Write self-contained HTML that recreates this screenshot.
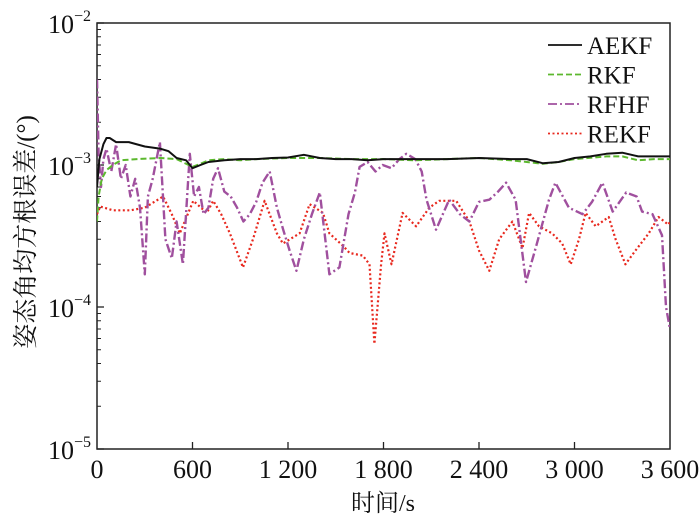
<!DOCTYPE html>
<html><head><meta charset="utf-8">
<style>
html,body{margin:0;padding:0;background:#fff;}
svg{display:block;}
text{font-family:"Liberation Serif","Noto Serif CJK SC",serif;fill:#111;}
</style></head>
<body>
<svg id="chart" width="700" height="523" viewBox="0 0 700 523" xmlns="http://www.w3.org/2000/svg"></svg>
<script>
const xTicks=[0,600,1200,1800,2400,3000,3600];
const xTickLabels=["0","600","1 200","1 800","2 400","3 000","3 600"];
const yDecades=[-2,-3,-4,-5];
const seriesNames=["AEKF","RKF","RFHF","REKF"];
const aekfT=[0,15,40,60,80,120,200,300,400,450,500,560,600,650,700,800,900,1000,1100,1200,1300,1400,1500,1600,1700,1800,1900,2000,2200,2400,2600,2700,2800,2900,3000,3100,3200,3300,3400,3500,3600];
const aekfV=[0.7e-3,1.1e-3,1.4e-3,1.55e-3,1.55e-3,1.45e-3,1.45e-3,1.35e-3,1.3e-3,1.25e-3,1.12e-3,1.08e-3,0.95e-3,1.0e-3,1.05e-3,1.08e-3,1.1e-3,1.1e-3,1.12e-3,1.13e-3,1.18e-3,1.12e-3,1.1e-3,1.1e-3,1.08e-3,1.1e-3,1.1e-3,1.1e-3,1.1e-3,1.12e-3,1.1e-3,1.1e-3,1.03e-3,1.05e-3,1.12e-3,1.15e-3,1.2e-3,1.22e-3,1.15e-3,1.15e-3,1.15e-3];
const rkfT=[0,10,30,60,100,150,250,400,500,600,650,700,800,900,1000,1200,1400,1600,1800,2000,2200,2400,2600,2700,2800,2900,3000,3200,3300,3400,3500,3600];
const rkfV=[0.4e-3,0.6e-3,0.8e-3,0.92e-3,1.0e-3,1.08e-3,1.1e-3,1.12e-3,1.1e-3,0.97e-3,1.02e-3,1.08e-3,1.1e-3,1.08e-3,1.1e-3,1.12e-3,1.12e-3,1.1e-3,1.1e-3,1.08e-3,1.1e-3,1.12e-3,1.08e-3,1.05e-3,1.02e-3,1.05e-3,1.1e-3,1.15e-3,1.15e-3,1.08e-3,1.1e-3,1.1e-3];
const rfhfT=[0,10,25,40,60,90,120,150,180,210,240,270,300,320,350,395,430,470,500,540,583,610,640,670,700,730,760,800,840,880,920,960,1000,1040,1085,1130,1170,1210,1253,1300,1350,1400,1460,1523,1580,1620,1650,1700,1750,1795,1850,1900,1943,2000,2040,2070,2130,2213,2280,2340,2400,2465,2520,2570,2630,2695,2760,2840,2880,2965,3050,3110,3175,3240,3325,3390,3425,3490,3550,3575,3600];
const rfhfV=[4e-3,1.2e-3,0.7e-3,1.1e-3,1.3e-3,0.9e-3,1.4e-3,0.8e-3,1.0e-3,0.6e-3,0.8e-3,0.5e-3,0.17e-3,0.6e-3,0.8e-3,1.45e-3,0.3e-3,0.22e-3,0.4e-3,0.2e-3,1.2e-3,0.6e-3,0.7e-3,0.45e-3,0.5e-3,0.8e-3,0.95e-3,0.65e-3,0.6e-3,0.5e-3,0.4e-3,0.45e-3,0.55e-3,0.75e-3,0.9e-3,0.5e-3,0.35e-3,0.25e-3,0.18e-3,0.3e-3,0.45e-3,0.64e-3,0.17e-3,0.19e-3,0.45e-3,0.64e-3,0.97e-3,1.05e-3,0.9e-3,1.0e-3,0.95e-3,1.1e-3,1.2e-3,1.1e-3,0.9e-3,0.57e-3,0.35e-3,0.57e-3,0.45e-3,0.4e-3,0.55e-3,0.57e-3,0.65e-3,0.75e-3,0.57e-3,0.15e-3,0.27e-3,0.57e-3,0.75e-3,0.5e-3,0.45e-3,0.55e-3,0.75e-3,0.47e-3,0.64e-3,0.6e-3,0.47e-3,0.45e-3,0.32e-3,0.1e-3,0.07e-3];
const rekfT=[0,20,100,210,300,415,470,520,605,690,730,780,835,917,980,1053,1130,1168,1273,1336,1420,1460,1545,1587,1670,1712,1743,1785,1806,1850,1920,2005,2088,2150,2257,2340,2400,2465,2527,2610,2673,2715,2777,2860,2923,2976,3028,3070,3133,3215,3258,3320,3383,3466,3528,3590,3600];
const rekfV=[0.45e-3,0.51e-3,0.48e-3,0.48e-3,0.5e-3,0.6e-3,0.45e-3,0.33e-3,0.56e-3,0.46e-3,0.56e-3,0.45e-3,0.33e-3,0.19e-3,0.3e-3,0.56e-3,0.33e-3,0.28e-3,0.33e-3,0.53e-3,0.46e-3,0.33e-3,0.27e-3,0.24e-3,0.23e-3,0.2e-3,0.055e-3,0.2e-3,0.33e-3,0.2e-3,0.46e-3,0.37e-3,0.5e-3,0.56e-3,0.56e-3,0.4e-3,0.25e-3,0.18e-3,0.3e-3,0.4e-3,0.26e-3,0.46e-3,0.37e-3,0.33e-3,0.28e-3,0.2e-3,0.3e-3,0.46e-3,0.37e-3,0.43e-3,0.3e-3,0.2e-3,0.25e-3,0.33e-3,0.43e-3,0.38e-3,0.4e-3];

const NS="http://www.w3.org/2000/svg";
const svg=document.getElementById('chart');
const L=97,R=670,T=23,B=449;
function xs(t){return L+(t-0)/3600*(R-L);}
function ys(v){return T+(-2-Math.log10(v))/3*(B-T);}
function mk(tag,attrs,parent){const e=document.createElementNS(NS,tag);for(const k in attrs)e.setAttribute(k,attrs[k]);(parent||svg).appendChild(e);return e;}

const frame=mk('rect',{x:L,y:T,width:R-L,height:B-T,fill:'none',stroke:'#222','stroke-width':1.5});



yDecades.forEach(d=>{
  const y=ys(Math.pow(10,d));
  const tk=mk('line',{x1:L,x2:L+7,y1:y,y2:y,stroke:'#222','stroke-width':1.3});
  
  
  const tx=mk('text',{x:L-6,y:y+10,'text-anchor':'end','font-size':26});
  
  
  const b=mk('tspan',{},tx);b.textContent='10';
  const s=mk('tspan',{dy:-12,'font-size':16},tx);s.textContent='\u2212'+(-d);
  if(d>-5){for(let m=2;m<=9;m++){
    const yy=ys(m*Math.pow(10,d-1));
    const mt=mk('line',{x1:L,x2:L+4,y1:yy,y2:yy,stroke:'#222','stroke-width':1});
    
    
  }}
});
xTicks.forEach((t,i)=>{
  const x=xs(t);
  if(i>0&&i<xTicks.length-1){
    const tk=mk('line',{x1:x,x2:x,y1:B,y2:B-7,stroke:'#222','stroke-width':1.3});
    
    
  }
  const tx=mk('text',{x:x,y:B+29,'text-anchor':'middle','font-size':26});
  tx.textContent=xTickLabels[i];
  
  
});
const xt=mk('text',{x:383,y:511,'text-anchor':'middle','font-size':24});
xt.textContent='时间/s';


const yt=mk('text',{x:0,y:0,'text-anchor':'middle','font-size':25,transform:'translate(34,232) rotate(-90)'});
yt.textContent='姿态角均方根误差/(°)';



const styles=[
 {c:'#111',d:'',w:2},
 {c:'#5cb82e',d:'6 3',w:2},
 {c:'#a0509e',d:'9 3 2 3',w:2.4},
 {c:'#e8281e',d:'2 2.5',w:2.2}
];
const data=[[aekfT,aekfV],[rkfT,rkfV],[rfhfT,rfhfV],[rekfT,rekfV]];
const names=['aekf-line','rkf-line','rfhf-line','rekf-line'];
const cp=mk('clipPath',{id:'clip'});mk('rect',{x:L,y:T,width:R-L,height:B-T},cp);
const g=mk('g',{'clip-path':'url(#clip)'});
[3,2,1,0].forEach(i=>{
  const [tt,vv]=data[i];
  const pts=tt.map((t,j)=>xs(t).toFixed(1)+','+ys(vv[j]).toFixed(1)).join(' ');
  const pl=mk('polyline',{points:pts,fill:'none',stroke:styles[i].c,'stroke-width':styles[i].w,'stroke-dasharray':styles[i].d,'stroke-linejoin':'round'},g);
  
  
});
seriesNames.forEach((n,i)=>{
  const y=45+i*29.5;
  const gl=mk('g',{});
  
  
  mk('line',{x1:548,x2:582,y1:y,y2:y,stroke:styles[i].c,'stroke-width':1.8,'stroke-dasharray':styles[i].d},gl);
  const tx=mk('text',{x:587,y:y+9,'font-size':25},gl);tx.textContent=n;
});
</script>
</body></html>
